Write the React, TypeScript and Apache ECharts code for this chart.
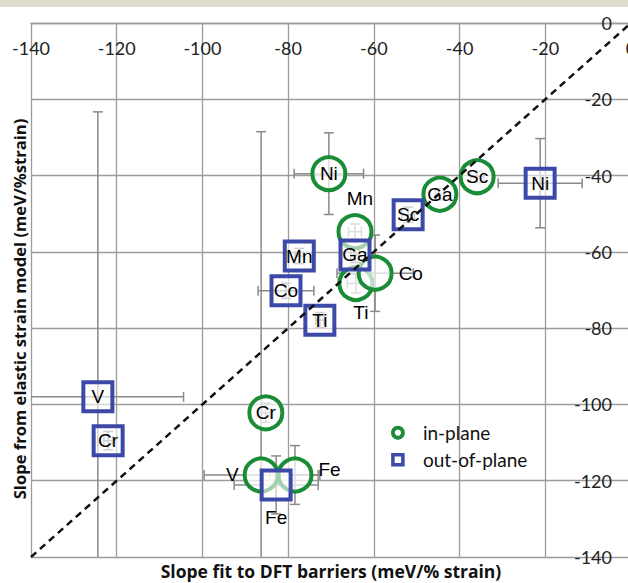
import React, { useEffect, useRef } from 'react';
import * as echarts from 'echarts';

// ---- data ----
const axisTicks = [-140, -120, -100, -80, -60, -40, -20, 0];

const inNames = ['Ni', 'Mn', 'Ti', 'Co', 'Ga', 'Sc', 'Cr', 'V', 'Fe'];
const inX = [-70.5, -64.4, -64.2, -59.7, -44.6, -35.9, -85.2, -86.3, -78.4];
const inY = [-39.5, -54.7, -68.3, -65.6, -44.9, -40.3, -102.2, -118.5, -118.5];
const inXErr = [8.1, 1.5, 2, 8.9, 1, 1.5, 1, 13.3, 5.8];
const inYErr = [10.7, 2, 2.5, 10, 1.5, 1.5, 2.5, 90, 7.7];

const outNames = ['Ni', 'Sc', 'Ga', 'Mn', 'Co', 'Ti', 'V', 'Cr', 'Fe'];
const outX = [-21.2, -52, -64.4, -77.4, -80.5, -72.6, -124.4, -122, -82.8];
const outY = [-42, -50.3, -60.8, -61.1, -70.2, -77.9, -98, -109.5, -121.1];
const outXErr = [9.8, 1.5, 1, 1, 6.5, 1, 20, 1, 9.8];
const outYErr = [11.7, 2, 2, 2, 2, 2, 74.7, 2.4, 7.6];

const legendNames = ['in-plane', 'out-of-plane'];

// ---- styles ----
const GREEN = '#1a8c35';
const BLUE = '#3c49a8';
const GRID = '#9c9c9c';
const TICK_FONT = 'Lato';
const POINT_FONT = '"Liberation Sans", Arial, sans-serif';

const inLabelPlacement: Record<string, any> = {
  Mn: { position: 'top', distance: 5, offset: [5, 0] },
  Ti: { position: 'bottom', distance: 1, offset: [5, 0] },
  Co: { position: 'right', distance: 5 },
  V: { position: 'left', distance: 4 },
  Fe: { position: 'right', distance: 5, offset: [0, -5] },
};
const outLabelPlacement: Record<string, any> = {
  Fe: { position: 'bottom', distance: 7 },
};

export default function App() {
  const ref = useRef<HTMLDivElement>(null);

  useEffect(() => {
    document.body.style.margin = '0';
    const chart = echarts.init(ref.current!, null, { renderer: 'svg' });

    const inData = inNames.map((n, i) => ({
      name: n,
      value: [inX[i], inY[i]],
      label: inLabelPlacement[n] || { position: 'inside' },
    }));
    const outData = outNames.map((n, i) => ({
      name: n,
      value: [outX[i], outY[i]],
      label: outLabelPlacement[n] || { position: 'inside' },
    }));
    const errData = [
      ...inNames.map((_, i) => [inX[i], inY[i], inXErr[i], inYErr[i]]),
      ...outNames.map((_, i) => [outX[i], outY[i], outXErr[i], outYErr[i]]),
    ];

    const pointLabel = {
      show: true,
      formatter: '{b}',
      color: '#000',
      fontSize: 19,
      fontFamily: POINT_FONT,
    };

    const option: any = {
      animation: false,
      backgroundColor: '#ffffff',
      grid: {
        left: 31,
        top: 23,
        width: 600,
        height: 534,
        containLabel: false,
        outerBoundsMode: 'none',
      },
      legend: {
        orient: 'vertical',
        left: 386,
        top: 417.7,
        itemWidth: 40,
        itemHeight: 10,
        itemGap: 7,
        selectedMode: false,
        textStyle: { fontFamily: TICK_FONT, fontSize: 19, color: '#111', lineHeight: 20 },
        data: [
          {
            name: legendNames[0],
            icon: 'circle',
            itemStyle: { color: '#fff', borderColor: GREEN, borderWidth: 3.8 },
          },
          {
            name: legendNames[1],
            icon: 'path://M0,0L10,0L10,10L0,10Z',
            itemStyle: { color: '#fff', borderColor: BLUE, borderWidth: 3.5 },
          },
        ],
      },
      xAxis: {
        type: 'value',
        position: 'top',
        min: axisTicks[0],
        max: axisTicks[axisTicks.length - 1],
        interval: 20,
        axisLine: { show: true, onZero: false, lineStyle: { color: GRID, width: 1.3 } },
        axisTick: { show: false },
        axisLabel: { inside: true, margin: 16, fontFamily: TICK_FONT, fontSize: 18, color: '#222' },
        splitLine: { show: true, lineStyle: { color: GRID, width: 1.3 } },
      },
      yAxis: {
        type: 'value',
        position: 'right',
        min: axisTicks[0],
        max: axisTicks[axisTicks.length - 1],
        interval: 20,
        axisLine: { show: true, onZero: false, lineStyle: { color: GRID, width: 1.3 } },
        axisTick: { show: false },
        axisLabel: { inside: true, margin: 19, fontFamily: TICK_FONT, fontSize: 18, color: '#222' },
        splitLine: { show: true, lineStyle: { color: GRID, width: 1.3 } },
      },
      series: [
        {
          name: 'error bars',
          type: 'custom',
          clip: true,
          silent: true,
          z: 2,
          data: errData,
          renderItem: (params: any, api: any) => {
            const x = api.value(0);
            const y = api.value(1);
            const ex = api.value(2);
            const ey = api.value(3);
            const cap = 5;
            const style = { stroke: '#8a8a8a', lineWidth: 1.5 };
            const children: any[] = [];
            if (ex > 0) {
              const l = api.coord([x - ex, y]);
              const r = api.coord([x + ex, y]);
              children.push({ type: 'line', shape: { x1: l[0], y1: l[1], x2: r[0], y2: r[1] }, style });
              children.push({ type: 'line', shape: { x1: l[0], y1: l[1] - cap, x2: l[0], y2: l[1] + cap }, style });
              children.push({ type: 'line', shape: { x1: r[0], y1: r[1] - cap, x2: r[0], y2: r[1] + cap }, style });
            }
            if (ey > 0) {
              const t = api.coord([x, y + ey]);
              const b = api.coord([x, y - ey]);
              children.push({ type: 'line', shape: { x1: t[0], y1: t[1], x2: b[0], y2: b[1] }, style });
              children.push({ type: 'line', shape: { x1: t[0] - cap, y1: t[1], x2: t[0] + cap, y2: t[1] }, style });
              children.push({ type: 'line', shape: { x1: b[0] - cap, y1: b[1], x2: b[0] + cap, y2: b[1] }, style });
            }
            return { type: 'group', children };
          },
        },
        {
          name: legendNames[0],
          type: 'scatter',
          symbol: 'circle',
          symbolSize: 33,
          z: 3,
          itemStyle: { color: 'rgba(255,255,255,0.7)', borderColor: GREEN, borderWidth: 4, opacity: 1 },
          label: pointLabel,
          emphasis: { disabled: true },
          data: inData,
        },
        {
          name: legendNames[1],
          type: 'scatter',
          symbol: 'rect',
          symbolSize: 29,
          z: 4,
          itemStyle: { color: 'rgba(255,255,255,0.6)', borderColor: BLUE, borderWidth: 4, opacity: 1 },
          label: pointLabel,
          emphasis: { disabled: true },
          data: outData,
        },
        {
          name: 'y = x',
          type: 'line',
          z: 5,
          silent: true,
          symbol: 'none',
          clip: true,
          lineStyle: { color: '#111', width: 2.5, type: [7, 5] },
          data: [
            [axisTicks[0], axisTicks[0]],
            [axisTicks[axisTicks.length - 1], axisTicks[axisTicks.length - 1]],
          ],
        },
      ],
      graphic: [
        { type: 'rect', left: 0, top: 0, shape: { width: 628, height: 7 }, style: { fill: '#dddbcd' }, silent: true },
        {
          type: 'text',
          x: 331,
          y: 571,
          style: {
            text: 'Slope fit to DFT barriers (meV/% strain)',
            fontFamily: '"Open Sans"',
            fontWeight: 'bold',
            fontSize: 17.5,
            fill: '#111',
            textAlign: 'center',
            textVerticalAlign: 'middle',
          },
        },
        {
          type: 'text',
          x: 19,
          y: 309,
          rotation: Math.PI / 2,
          style: {
            text: 'Slope from elastic strain model (meV/%strain)',
            fontFamily: '"Open Sans"',
            fontWeight: 'bold',
            fontSize: 16.6,
            fill: '#111',
            textAlign: 'center',
            textVerticalAlign: 'middle',
          },
        },
      ],
    };

    chart.setOption(option);
    return () => chart.dispose();
  }, []);

  return <div ref={ref} style={{ width: 628, height: 583 }} />;
}
